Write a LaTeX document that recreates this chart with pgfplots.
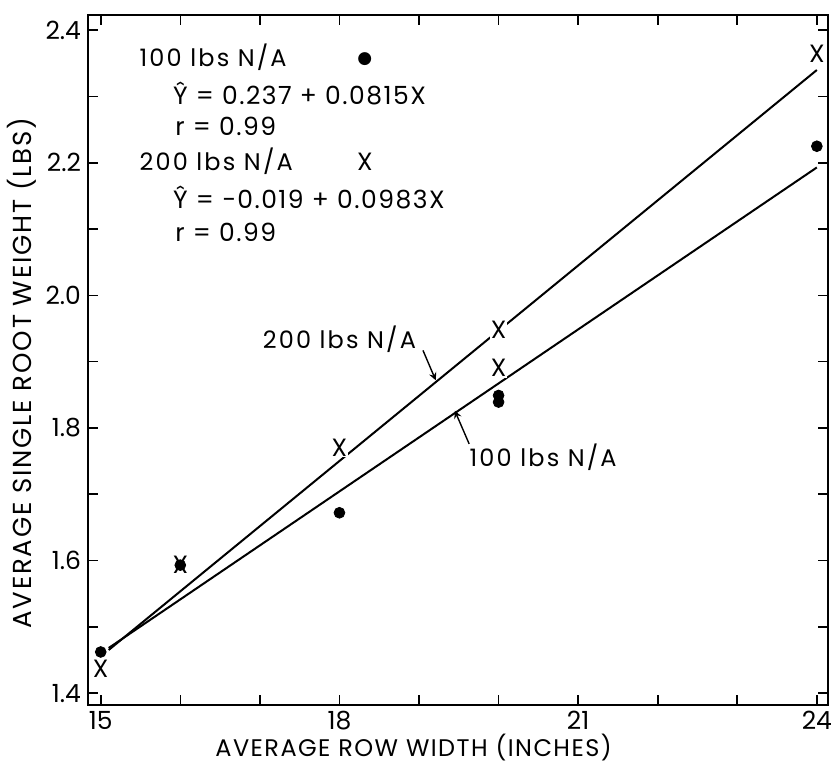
\documentclass[border=0pt]{standalone}
\usepackage{fontspec}
\setmainfont{Poppins}
\newfontfamily\xlabfont{Poppins}[LetterSpace=6]
\newfontfamily\ylabfont{Poppins}[LetterSpace=7]
\newfontfamily\annfont{Poppins}[LetterSpace=9]
\newfontfamily\eqfont{Poppins}[LetterSpace=6]
\newfontfamily\symfont{DejaVu Sans}
\usepackage{pgfplots}
\pgfplotsset{compat=1.18}

% 100 lbs N/A (dots) and 200 lbs N/A (X)
\pgfplotstableread{
x    y
15   1.462
16   1.593
18   1.672
20   1.849
20   1.839
24   2.225
}\nlow
\pgfplotstableread{
x    y
15   1.436
16   1.593
18   1.770
20   1.948
20   1.890
24   2.365
}\nhigh

\begin{document}
\begin{tikzpicture}
\begin{axis}[
  width=370pt, height=345pt, scale only axis,
  xmin=14.84, xmax=24.14,
  ymin=1.382, ymax=2.423,
  xtick={15,...,24},
  xticklabels={15,,,18,,,21,,,24},
  ytick={1.4,1.5,...,2.41},
  yticklabels={1.4,,1.6,,1.8,,2.0,,2.2,,2.4},
  tick align=inside,
  major tick length=5pt,
  every tick/.style={black, line width=0.8pt},
  axis line style={line width=1pt},
  ticklabel style={font=\fontsize{12.5}{13}\selectfont},
  xticklabel style={yshift=0.5pt},
  xlabel={AVERAGE ROW WIDTH (INCHES)},
  ylabel={AVERAGE SINGLE ROOT WEIGHT (LBS)},
  xlabel style={font=\xlabfont\fontsize{12}{12}\selectfont, at={(axis description cs:0.44,-0.062)}, anchor=center, inner sep=1pt},
  ylabel style={font=\ylabfont\fontsize{13}{13}\selectfont, at={(axis description cs:-0.089,0.481)}, anchor=center, rotate=0},
  clip=false,
]
\coordinate (sw) at (rel axis cs:0,0);
\coordinate (ne) at (rel axis cs:1,1);
% regression lines
\addplot[black, line width=1pt] coordinates {(15.1,1.468) (24,2.193)};
\addplot[black, line width=1pt] coordinates {(15.1,1.465) (24,2.340)};
% points
\addplot[only marks, mark=text, text mark={X}, text mark as node=true,
  text mark style={font=\fontsize{12.5}{12.5}\selectfont, fill=white, inner sep=0.4pt}]
  table {\nhigh};
\addplot[only marks, mark=*, mark size=2.7pt, black] table {\nlow};
% annotations
\node[anchor=west, font=\annfont\fontsize{12}{12}\selectfont] at (axis cs:15.40,2.359) {100 lbs N/A};
\node[font=\symfont\fontsize{8.5}{8.5}\selectfont] at (axis cs:18.32,2.356) {●};
\node[anchor=west, font=\eqfont\fontsize{12.5}{12.5}\selectfont] at (axis cs:15.82,2.305) {Ŷ = 0.237 + 0.0815X};
\node[anchor=west, font=\eqfont\fontsize{12.5}{12.5}\selectfont] at (axis cs:15.85,2.255) {r = 0.99};
\node[anchor=west, font=\annfont\fontsize{12}{12}\selectfont] at (axis cs:15.40,2.202) {200 lbs N/A};
\node[font=\fontsize{12.5}{12.5}\selectfont] at (axis cs:18.32,2.202) {X};
\node[anchor=west, font=\eqfont\fontsize{12.5}{12.5}\selectfont] at (axis cs:15.82,2.148) {Ŷ = −0.019 + 0.0983X};
\node[anchor=west, font=\eqfont\fontsize{12.5}{12.5}\selectfont] at (axis cs:15.85,2.095) {r = 0.99};
% line labels
\node[font=\annfont\fontsize{12}{12}\selectfont] at (axis cs:18.0,1.934) {200 lbs N/A};
\draw[->, >=stealth, line width=0.7pt] (axis cs:19.05,1.917) -- (axis cs:19.21,1.872);
\node[font=\annfont\fontsize{12}{12}\selectfont] at (axis cs:20.56,1.756) {100 lbs N/A};
\draw[->, >=stealth, line width=0.7pt] (axis cs:19.63,1.776) -- (axis cs:19.45,1.826);
\end{axis}
\pgfresetboundingbox
\path[use as bounding box] ([xshift=-44pt,yshift=-30pt]sw) rectangle ([xshift=3pt,yshift=7.5pt]ne);
\end{tikzpicture}
\end{document}
